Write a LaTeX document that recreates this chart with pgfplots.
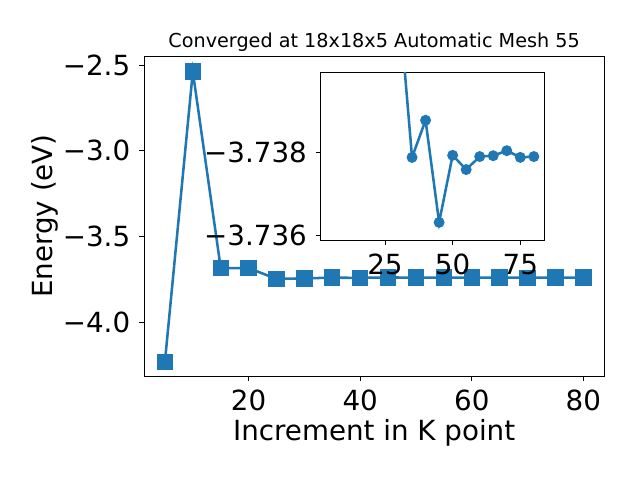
\documentclass[border=0pt]{standalone}
\usepackage{pgfplots}
\pgfplotsset{compat=1.18}
\usepackage{fontspec}
\setmainfont{DejaVu Sans}
\definecolor{tabblue}{HTML}{1F77B4}
\newcommand{\bigf}{\fontsize{20.8}{24}\selectfont}
\begin{document}
\begin{tikzpicture}[x=1pt,y=1pt]
\path[use as bounding box] (0,0) rectangle (480,360);
\begin{axis}[
  at={(108pt,78pt)}, anchor=south west,
  scale only axis, width=345.2pt, height=240pt,
  xmin=1.25, xmax=83.75, ymin=-4.31, ymax=-2.448,
  xtick={20,40,60,80}, xticklabels={20,40,60,80},
  ytick={-4,-3.5,-3,-2.5}, yticklabels={−4.0,−3.5,−3.0,−2.5},
  xtick pos=bottom, ytick pos=left,
  tick align=outside, major tick length=3.65pt,
  every tick/.style={black, line width=0.6pt},
  axis line style={line width=0.6pt},
  xticklabel style={font=\bigf, inner sep=0pt, anchor=north, yshift=-6.5pt},
  yticklabel style={font=\bigf, inner sep=0pt, anchor=east, xshift=-6.5pt},
  xlabel={Increment in K point}, ylabel={Energy (eV)},
  xlabel style={font=\bigf, at={(axis description cs:0.5,-0.2)}, anchor=base},
  ylabel style={font=\bigf, at={(axis description cs:-0.215,0.5)}, anchor=center},
  every axis title shift=0pt,
  title={Converged at 18x18x5 Automatic Mesh 55},
  title style={font=\fontsize{14.4}{16}\selectfont, at={(axis description cs:0.5,1.026)}, anchor=base, inner sep=0pt},
]
\addplot[tabblue, line width=1.9pt, mark=square*, mark size=5.2pt, mark options={solid}] coordinates {
(5,-4.227) (10,-2.539) (15,-3.682) (20,-3.682) (25,-3.745) (30,-3.7417)
(35,-3.73787) (40,-3.738755) (45,-3.73632) (50,-3.73792) (55,-3.73758)
(60,-3.73789) (65,-3.73791) (70,-3.73803) (75,-3.73787) (80,-3.73789)};
\end{axis}
\begin{axis}[
  at={(240.5pt,180pt)}, anchor=south west,
  scale only axis, width=167.5pt, height=125.8pt,
  axis background/.style={fill=white},
  xmin=1.25, xmax=83.75, ymin=-3.7399, ymax=-3.7359, y dir=reverse,
  restrict y to domain=-3.76:-3.72,
  xtick={25,50,75}, xticklabels={25,50,75},
  ytick={-3.738,-3.736}, yticklabels={−3.738,−3.736},
  xtick pos=bottom, ytick pos=left,
  tick align=outside, major tick length=3.65pt,
  every tick/.style={black, line width=0.6pt},
  axis line style={line width=0.6pt},
  xticklabel style={font=\bigf, inner sep=0pt, anchor=north, yshift=-6.5pt},
  yticklabel style={font=\bigf, inner sep=0pt, anchor=east, xshift=-6.5pt},
  scaled y ticks=false,
]
\addplot[tabblue, line width=1.9pt, mark=*, mark size=3.1pt, mark options={solid}] coordinates {
(5,-4.227) (10,-2.539) (15,-3.682) (20,-3.682) (25,-3.745) (30,-3.7417)
(35,-3.73787) (40,-3.738755) (45,-3.73632) (50,-3.73792) (55,-3.73758)
(60,-3.73789) (65,-3.73791) (70,-3.73803) (75,-3.73787) (80,-3.73789)};
\end{axis}
\end{tikzpicture}
\end{document}
